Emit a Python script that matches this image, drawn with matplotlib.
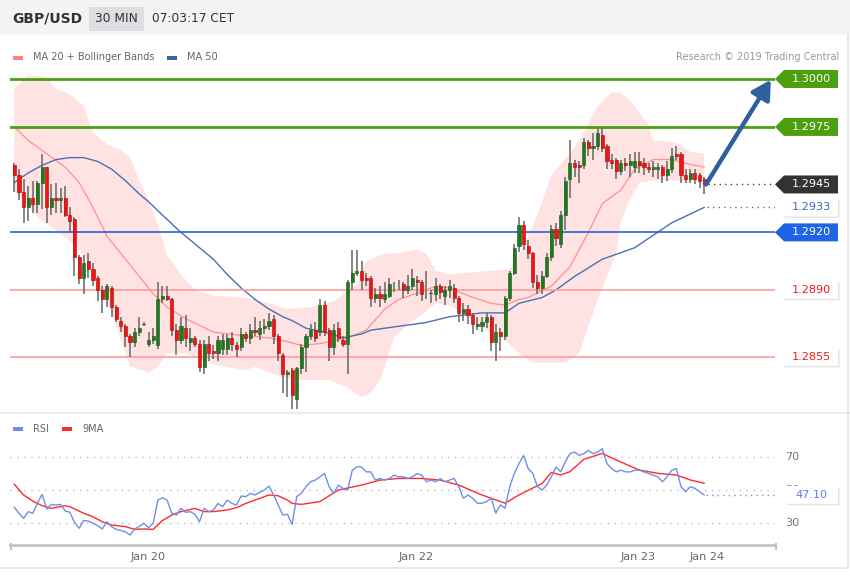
import numpy as np
import matplotlib.pyplot as plt
from matplotlib.patches import Polygon, Rectangle

plt.rcParams['font.family'] = ['DejaVu Sans', 'Noto Sans']

# ---------------- data (30 min candles, GBP/USD) ----------------
opens = [
    1.2955, 1.2950, 1.2941, 1.2933, 1.2938, 1.2935, 1.2946, 1.2954, 1.2933, 1.2938,
    1.2937, 1.2938, 1.2929, 1.2927, 1.2907, 1.2896, 1.2905, 1.2901, 1.2896, 1.2890,
    1.2885, 1.2891, 1.2881, 1.2874, 1.2871, 1.2866, 1.2863, 1.2868, 1.2872, 1.2862,
    1.2864, 1.2861, 1.2885, 1.2887, 1.2885, 1.2869, 1.2864, 1.2870, 1.2863, 1.2865,
    1.2862, 1.2850, 1.2862, 1.2858, 1.2857, 1.2859, 1.2859, 1.2865, 1.2861, 1.2860,
    1.2867, 1.2865, 1.2869, 1.2867, 1.2870, 1.2871, 1.2875, 1.2866, 1.2856, 1.2846,
    1.2848, 1.2833, 1.2849, 1.2860, 1.2866, 1.2869, 1.2868, 1.2882, 1.2869, 1.2860,
    1.2870, 1.2864, 1.2862, 1.2894, 1.2899, 1.2900, 1.2896, 1.2896, 1.2886, 1.2888,
    1.2885, 1.2887, 1.2892, 1.2892, 1.2893, 1.2890, 1.2892, 1.2895, 1.2894, 1.2890,
    1.2888, 1.2888, 1.2892, 1.2887, 1.2890, 1.2891, 1.2886, 1.2878, 1.2880, 1.2877,
    1.2871, 1.2871, 1.2873, 1.2876, 1.2863, 1.2868, 1.2866, 1.2886, 1.2899, 1.2913,
    1.2924, 1.2913, 1.2909, 1.2894, 1.2891, 1.2897, 1.2907, 1.2922, 1.2914, 1.2929,
    1.2948, 1.2956, 1.2955, 1.2955, 1.2967, 1.2964, 1.2965, 1.2971, 1.2965, 1.2958,
    1.2958, 1.2952, 1.2956, 1.2955, 1.2954, 1.2957, 1.2956, 1.2954, 1.2953, 1.2953,
    1.2954, 1.2950, 1.2953, 1.2961, 1.2961, 1.2950, 1.2948, 1.2951, 1.2950, 1.2948]
highs = [
    1.2956, 1.2953, 1.2948, 1.2944, 1.2947, 1.2947, 1.2961, 1.2954, 1.2945, 1.2946,
    1.2943, 1.2944, 1.2933, 1.2928, 1.2908, 1.2908, 1.2909, 1.2904, 1.2897, 1.2892,
    1.2893, 1.2892, 1.2882, 1.2876, 1.2872, 1.2867, 1.2870, 1.2876, 1.2873, 1.2868,
    1.2870, 1.2894, 1.2892, 1.2892, 1.2886, 1.2872, 1.2876, 1.2877, 1.2870, 1.2866,
    1.2864, 1.2864, 1.2866, 1.2861, 1.2866, 1.2867, 1.2867, 1.2868, 1.2863, 1.2870,
    1.2868, 1.2872, 1.2876, 1.2874, 1.2875, 1.2878, 1.2877, 1.2867, 1.2857, 1.2848,
    1.2849, 1.2850, 1.2862, 1.2867, 1.2872, 1.2873, 1.2885, 1.2884, 1.2870, 1.2872,
    1.2873, 1.2866, 1.2895, 1.2911, 1.2911, 1.2905, 1.2899, 1.2897, 1.2891, 1.2892,
    1.2894, 1.2896, 1.2894, 1.2895, 1.2894, 1.2898, 1.2901, 1.2897, 1.2895, 1.2900,
    1.2890, 1.2896, 1.2893, 1.2892, 1.2895, 1.2893, 1.2887, 1.2883, 1.2882, 1.2878,
    1.2876, 1.2876, 1.2878, 1.2877, 1.2872, 1.2870, 1.2887, 1.2900, 1.2914, 1.2928,
    1.2926, 1.2916, 1.2910, 1.2898, 1.2900, 1.2909, 1.2924, 1.2925, 1.2931, 1.2949,
    1.2968, 1.2958, 1.2957, 1.2969, 1.2968, 1.2972, 1.2974, 1.2975, 1.2966, 1.2961,
    1.2959, 1.2958, 1.2959, 1.2961, 1.2962, 1.2962, 1.2959, 1.2956, 1.2957, 1.2956,
    1.2955, 1.2957, 1.2964, 1.2965, 1.2962, 1.2953, 1.2953, 1.2953, 1.2951, 1.2949]
lows = [
    1.2941, 1.2937, 1.2925, 1.2926, 1.2930, 1.2930, 1.2932, 1.2925, 1.2929, 1.2930,
    1.2930, 1.2928, 1.2920, 1.2897, 1.2893, 1.2888, 1.2896, 1.2892, 1.2884, 1.2878,
    1.2881, 1.2876, 1.2873, 1.2868, 1.2860, 1.2855, 1.2860, 1.2866, 1.2871, 1.2860,
    1.2862, 1.2859, 1.2883, 1.2884, 1.2866, 1.2856, 1.2862, 1.2860, 1.2858, 1.2860,
    1.2847, 1.2846, 1.2853, 1.2854, 1.2853, 1.2856, 1.2856, 1.2858, 1.2855, 1.2858,
    1.2863, 1.2862, 1.2866, 1.2864, 1.2867, 1.2869, 1.2862, 1.2853, 1.2836, 1.2834,
    1.2828, 1.2828, 1.2846, 1.2847, 1.2864, 1.2863, 1.2866, 1.2866, 1.2853, 1.2856,
    1.2863, 1.2860, 1.2846, 1.2890, 1.2897, 1.2890, 1.2892, 1.2881, 1.2883, 1.2881,
    1.2883, 1.2886, 1.2889, 1.2890, 1.2886, 1.2888, 1.2890, 1.2887, 1.2884, 1.2885,
    1.2883, 1.2884, 1.2885, 1.2882, 1.2886, 1.2883, 1.2873, 1.2874, 1.2872, 1.2867,
    1.2869, 1.2868, 1.2870, 1.2858, 1.2853, 1.2858, 1.2864, 1.2884, 1.2898, 1.2910,
    1.2911, 1.2906, 1.2891, 1.2888, 1.2888, 1.2896, 1.2905, 1.2913, 1.2912, 1.2921,
    1.2938, 1.2949, 1.2946, 1.2953, 1.2960, 1.2958, 1.2963, 1.2962, 1.2953, 1.2953,
    1.2948, 1.2950, 1.2952, 1.2949, 1.2951, 1.2951, 1.2950, 1.2951, 1.2949, 1.2948,
    1.2946, 1.2947, 1.2951, 1.2958, 1.2946, 1.2946, 1.2946, 1.2945, 1.2943, 1.2940]
closes = [
    1.2950, 1.2941, 1.2933, 1.2938, 1.2935, 1.2946, 1.2954, 1.2933, 1.2938, 1.2937,
    1.2938, 1.2929, 1.2926, 1.2907, 1.2896, 1.2904, 1.2901, 1.2895, 1.2890, 1.2885,
    1.2892, 1.2881, 1.2875, 1.2871, 1.2866, 1.2863, 1.2868, 1.2870, 1.2872, 1.2864,
    1.2866, 1.2885, 1.2887, 1.2885, 1.2869, 1.2864, 1.2871, 1.2865, 1.2865, 1.2862,
    1.2850, 1.2862, 1.2857, 1.2857, 1.2864, 1.2864, 1.2865, 1.2862, 1.2859, 1.2867,
    1.2865, 1.2869, 1.2868, 1.2870, 1.2871, 1.2874, 1.2866, 1.2857, 1.2846, 1.2847,
    1.2835, 1.2849, 1.2860, 1.2866, 1.2869, 1.2865, 1.2882, 1.2868, 1.2860, 1.2869,
    1.2865, 1.2862, 1.2894, 1.2899, 1.2900, 1.2895, 1.2895, 1.2886, 1.2888, 1.2886,
    1.2888, 1.2893, 1.2892, 1.2892, 1.2890, 1.2892, 1.2896, 1.2894, 1.2888, 1.2890,
    1.2888, 1.2892, 1.2889, 1.2890, 1.2892, 1.2886, 1.2878, 1.2880, 1.2877, 1.2872,
    1.2872, 1.2873, 1.2876, 1.2863, 1.2868, 1.2866, 1.2886, 1.2899, 1.2912, 1.2924,
    1.2914, 1.2909, 1.2894, 1.2891, 1.2897, 1.2907, 1.2922, 1.2917, 1.2929, 1.2947,
    1.2956, 1.2954, 1.2954, 1.2967, 1.2964, 1.2965, 1.2972, 1.2964, 1.2957, 1.2956,
    1.2952, 1.2956, 1.2955, 1.2957, 1.2957, 1.2955, 1.2954, 1.2953, 1.2954, 1.2954,
    1.2950, 1.2953, 1.2960, 1.2960, 1.2950, 1.2948, 1.2951, 1.2948, 1.2947, 1.2945]

# moving averages / bands (candle index, price)
ma50_idx = [0, 3, 6, 9, 12, 15, 18, 21, 24, 27, 29, 32, 36, 40, 43, 46, 49, 52, 55, 58,
            60, 63, 67, 71, 75, 77, 83, 89, 94, 101, 106, 109, 114, 117, 121, 127, 134,
            142, 149]
ma50 = [1.2946, 1.2951, 1.2955, 1.2958, 1.2959, 1.2959, 1.2957, 1.2953, 1.2947, 1.2940,
        1.2936, 1.2929, 1.2920, 1.2912, 1.2906, 1.2898, 1.2891, 1.2885, 1.2880, 1.2876,
        1.2874, 1.2870, 1.2868, 1.2865, 1.2867, 1.2869, 1.2871, 1.2873, 1.2876, 1.2878,
        1.2878, 1.2883, 1.2886, 1.2890, 1.2897, 1.2906, 1.2912, 1.2925, 1.2933]
ma20_idx = [0, 3, 11, 14, 17, 20, 24, 27, 30, 33, 37, 43, 50, 55, 59, 62, 66, 72, 76,
            80, 83, 88, 91, 94, 98, 103, 106, 109, 111, 116, 120, 124, 127, 131, 134,
            138, 142, 145, 149]
ma20 = [1.2975, 1.2968, 1.2954, 1.2946, 1.2933, 1.2918, 1.2906, 1.2897, 1.2888, 1.2881,
        1.2875, 1.2868, 1.2866, 1.2865, 1.2863, 1.2861, 1.2862, 1.2865, 1.2869, 1.2880,
        1.2885, 1.2889, 1.2892, 1.2891, 1.2887, 1.2883, 1.2882, 1.2885, 1.2886, 1.2892,
        1.2902, 1.2920, 1.2935, 1.2942, 1.2953, 1.2958, 1.2958, 1.2956, 1.2954]
bb_up_idx = [0, 3, 7, 9, 12, 15, 17, 20, 23, 25, 27, 29, 31, 33, 36, 39, 43, 50, 55, 59,
             64, 69, 74, 76, 80, 83, 87, 89, 91, 94, 98, 103, 107, 109, 113, 116, 120,
             123, 126, 129, 131, 134, 137, 138, 143, 146, 149]
bb_up = [1.2995, 1.3002, 1.3001, 1.2995, 1.2992, 1.2986, 1.2972, 1.2966, 1.2963, 1.2959,
         1.2947, 1.2937, 1.2924, 1.2908, 1.2898, 1.2890, 1.2887, 1.2886, 1.2883, 1.2880,
         1.2881, 1.2884, 1.2893, 1.2905, 1.2909, 1.2909, 1.2911, 1.2909, 1.2900, 1.2898,
         1.2899, 1.2900, 1.2901, 1.2908, 1.2929, 1.2950, 1.2961, 1.2972, 1.2986, 1.2993,
         1.2993, 1.2986, 1.2976, 1.2968, 1.2967, 1.2962, 1.2961]
bb_lo_idx = [0, 5, 12, 16, 20, 23, 25, 29, 31, 33, 37, 43, 50, 52, 57, 61, 68, 72, 75,
             77, 79, 82, 85, 88, 91, 94, 98, 103, 106, 109, 112, 119, 122, 124, 126,
             128, 130, 131, 133, 135, 138, 149]
bb_lo = [1.2942, 1.2928, 1.2916, 1.2905, 1.2885, 1.2864, 1.2850, 1.2847, 1.2850, 1.2857,
         1.2857, 1.2851, 1.2848, 1.2850, 1.2845, 1.2843, 1.2843, 1.2839, 1.2834, 1.2836,
         1.2843, 1.2865, 1.2872, 1.2877, 1.2883, 1.2882, 1.2876, 1.2867, 1.2864, 1.2857,
         1.2852, 1.2852, 1.2857, 1.2871, 1.2885, 1.2897, 1.2909, 1.2926, 1.2937, 1.2946,
         1.2947, 1.2947]

rsi = [
    39.5, 36.0, 32.8, 36.9, 35.9, 42.0, 47.4, 38.5, 41.3, 40.9,
    41.3, 37.3, 36.5, 30.4, 26.8, 31.6, 31.2, 29.8, 28.4, 26.4,
    30.8, 27.8, 26.2, 25.5, 24.7, 22.7, 26.4, 28.0, 29.8, 27.2,
    29.8, 43.9, 45.3, 43.9, 35.9, 34.8, 38.9, 36.5, 36.9, 35.3,
    30.8, 38.9, 36.9, 37.9, 41.9, 39.9, 43.9, 41.9, 40.9, 46.4,
    46.0, 48.0, 47.0, 48.6, 50.0, 52.4, 47.0, 40.9, 34.8, 35.3,
    29.2, 46.0, 48.0, 52.0, 55.0, 56.0, 58.0, 60.0, 52.0, 48.0,
    53.0, 51.0, 50.0, 62.0, 64.0, 64.0, 61.0, 61.0, 56.0, 57.0,
    56.0, 57.0, 59.0, 58.0, 58.0, 57.0, 58.0, 60.0, 59.0, 55.0,
    56.0, 55.0, 57.0, 55.0, 56.0, 57.0, 52.0, 45.0, 47.0, 45.0,
    42.0, 42.0, 43.0, 45.0, 36.0, 41.0, 39.0, 52.0, 60.0, 66.0,
    71.0, 63.0, 60.0, 52.0, 50.0, 53.0, 58.0, 64.0, 61.0, 67.0,
    72.0, 73.0, 71.0, 72.0, 74.0, 72.0, 73.0, 75.0, 66.0, 63.0,
    61.0, 62.0, 61.0, 61.0, 62.0, 62.0, 61.0, 60.0, 59.0, 58.0,
    55.0, 58.0, 62.0, 63.0, 52.0, 49.0, 52.0, 51.0, 49.0, 47.1]
ma9_idx = [0, 2, 4, 6, 8, 11, 12, 15, 17, 19, 21, 24, 26, 28, 30, 32, 34, 36, 39, 41,
           43, 46, 48, 50, 52, 55, 57, 59, 60, 62, 66, 70, 75, 79, 83, 88, 92, 96, 101,
           104, 106, 109, 114, 116, 118, 120, 123, 127, 130, 135, 139, 143, 146, 149]
ma9 = [53.5, 47.0, 43.3, 40.5, 38.9, 40.5, 39.9, 35.9, 33.8, 30.8, 28.8, 27.8, 26.2, 26.4,
       26.2, 31.5, 34.8, 36.9, 38.9, 36.9, 36.9, 37.9, 39.3, 41.9, 43.9, 47.0, 46.5, 43.9,
       41.9, 41.3, 43.0, 50.0, 53.0, 56.0, 57.0, 57.0, 56.0, 53.0, 47.0, 44.0, 42.0, 47.0,
       54.0, 60.7, 59.1, 61.1, 68.6, 72.2, 68.2, 62.1, 60.1, 59.1, 56.1, 54.1]

levels = [1.3000, 1.2975, 1.2920, 1.2890, 1.2855]
last_price = 1.2945
last_ma50 = 1.2933
target = 1.3000
last_rsi = 47.10
rsi_levels = [70, 50, 30]
tick_pos = [28.9, 86.8, 134.7, 149.6]
tick_labels = ['Jan 20', 'Jan 22', 'Jan 23', 'Jan 24']

# ---------------- layout ----------------
W, H = 850, 576
fig = plt.figure(figsize=(W / 100, H / 100), dpi=100)
fig.patch.set_facecolor('white')


def box(x0, y0, x1, y1):
    return [x0 / W, 1 - y1 / H, (x1 - x0) / W, (y1 - y0) / H]


XL, XR = -0.93, 164.3
ax = fig.add_axes(box(10, 70, 775, 412))
rx = fig.add_axes(box(10, 440, 775, 545))
cv = fig.add_axes([0, 0, 1, 1], zorder=5)
cv.set_xlim(0, W)
cv.set_ylim(H, 0)
cv.axis('off')

for a in (ax, rx):
    a.set_xlim(XL, XR)
    a.set_facecolor('none')
    for s in a.spines.values():
        s.set_visible(False)
    a.set_yticks([])
ax.set_xticks([])
ax.set_ylim(1.28263, 1.30047)

GREEN_LVL = '#4ca00e'
BLUE_LVL = '#2563d8'
RED_LVL = '#ff9c9c'
lvl_colors = [GREEN_LVL, GREEN_LVL, BLUE_LVL, RED_LVL, RED_LVL]
lvl_widths = [2.0, 2.0, 1.2, 1.2, 1.2]

# bollinger band + MAs
band_x = np.r_[bb_up_idx, bb_lo_idx[::-1]]
band_y = np.r_[bb_up, bb_lo[::-1]]
ax.fill(band_x, band_y, color='#ffe2e2', lw=0, zorder=1)
ax.plot(ma20_idx, ma20, color='#ff9090', lw=0.9, zorder=2)
ax.plot(ma50_idx, ma50, color='#4a70b5', lw=1.0, zorder=2)

for v, col, lw in zip(levels, lvl_colors, lvl_widths):
    ax.axhline(v, color=col, lw=lw, zorder=3)

# candles
idx = np.arange(len(closes))
o = np.array(opens)
c = np.array(closes)
hi = np.array(highs)
lo = np.array(lows)
ax.vlines(idx, lo, hi, color='#666666', lw=1.1, zorder=4)
up = c > o
dn = c < o
eq = c == o
body_lo = np.minimum(o, c)
body_h = np.maximum(np.abs(c - o), 0.00004)
ax.bar(idx[up], body_h[up], bottom=body_lo[up], width=0.68, color='#1f7a1f',
       edgecolor='#155815', lw=0.4, zorder=5)
ax.bar(idx[dn], body_h[dn], bottom=body_lo[dn], width=0.68, color='#f01414',
       edgecolor='#b00000', lw=0.4, zorder=5)
ax.bar(idx[eq], body_h[eq], bottom=body_lo[eq] - 0.00002, width=0.68, color='#555555',
       lw=0, zorder=5)

# dotted leaders to the right tags
ax.plot([idx[-1] + 0.9, XR], [last_price] * 2, color='#444444', lw=1.0,
        ls=(0, (1, 3)), zorder=3)
ax.plot([idx[-1] + 0.6, XR], [last_ma50] * 2, color='#4a70b5', lw=1.0,
        ls=(0, (1, 3)), zorder=3)

# target arrow
ax.annotate('', xy=(163.4, target - 0.00004), xytext=(idx[-1] + 0.4, last_price),
            arrowprops=dict(arrowstyle='-|>,head_length=0.8,head_width=0.45',
                            lw=3.2, color='#2f5f9e', mutation_scale=14,
                            shrinkA=0, shrinkB=0), zorder=6)


def ypx(a, v):
    return H - a.transData.transform((0, v))[1]


def tag(y, text, face, tcol, shadow=False, x0=775, x1=838, hh=9):
    pts = [(x0, y), (x0 + 9, y - hh), (x1, y - hh), (x1, y + hh), (x0 + 9, y + hh)]
    if shadow:
        sh = [(px + 1.5, py + 1.5) for px, py in pts]
        cv.add_patch(Polygon(sh, closed=True, color='#e4e4e4', lw=0, zorder=2))
    cv.add_patch(Polygon(pts, closed=True, color=face, lw=0, zorder=2))
    cv.text((x0 + 9 + x1) / 2, y, text, color=tcol, fontsize=8.1,
            ha='center', va='center', zorder=3)


tag(ypx(ax, 1.3000), '1.3000', GREEN_LVL, 'white')
tag(ypx(ax, 1.2975), '1.2975', GREEN_LVL, 'white')
tag(ypx(ax, last_price), '1.2945', '#333333', 'white')
tag(ypx(ax, last_ma50), '1.2933', 'white', '#3b66b0', shadow=True)
tag(ypx(ax, 1.2920), '1.2920', '#1f63e6', 'white')
tag(ypx(ax, 1.2890), '1.2890', 'white', '#f01a1a', shadow=True)
tag(ypx(ax, 1.2855), '1.2855', 'white', '#f01a1a', shadow=True)

# ---------------- RSI panel ----------------
rx.set_ylim(16.7, 80.3)
for v in rsi_levels:
    rx.axhline(v, color='#bdbdbd', lw=1.0, ls=(0, (1, 4)), zorder=1)
rx.plot(idx, rsi, color='#6f8fe8', lw=1.0, zorder=3)
rx.plot(ma9_idx, ma9, color='#ff2b2b', lw=1.0, zorder=2)
rx.plot([idx[-1] + 0.5, XR], [last_rsi] * 2, color='#6f8fe8', lw=1.0,
        ls=(0, (1, 3)), zorder=2)
rx.spines['bottom'].set_visible(True)
rx.spines['bottom'].set_color('#c4c4c4')
rx.spines['bottom'].set_linewidth(2.0)
rx.set_xticks(tick_pos)
rx.set_xticklabels(tick_labels)
rx.tick_params(axis='x', length=0, pad=5, labelsize=8.1, labelcolor='#666666')

for v in rsi_levels:
    cv.text(785, ypx(rx, v), str(v), fontsize=8.1, color='#777777', va='center',
            zorder=1)
tag(ypx(rx, last_rsi), '47.10', 'white', '#5b7fe0', shadow=True, x0=777, x1=838)

# axis end ticks
cv.plot([11, 11], [544, 549], color='#c4c4c4', lw=1.5)
cv.plot([776, 776], [544, 549], color='#c4c4c4', lw=1.5)

# ---------------- header / legends ----------------
cv.add_patch(Rectangle((0, 0), W, 35, color='#f4f4f4', lw=0))
cv.text(12, 19, 'GBP/USD', fontsize=10, fontweight='bold', color='#333333', va='center')
cv.add_patch(Rectangle((89, 7), 55, 24, color='#dcdee2', lw=0))
cv.text(116.5, 19, '30 MIN', fontsize=8.8, color='#333333', ha='center', va='center')
cv.text(152, 19, '07:03:17 CET', fontsize=8.8, color='#333333', va='center')

cv.add_patch(Rectangle((13, 55.5), 10, 4, color='#ff8080', lw=0))
cv.text(33, 57.5, 'MA 20 + Bollinger Bands', fontsize=7.0, color='#666666', va='center')
cv.add_patch(Rectangle((167, 55.5), 10, 4, color='#3a62a8', lw=0))
cv.text(187, 57.5, 'MA 50', fontsize=7.0, color='#666666', va='center')
cv.text(839, 57.5, 'Research \u00a9 2019 Trading Central', fontsize=7.0,
        color='#9a9a9a', ha='right', va='center')

cv.add_patch(Rectangle((13, 427), 10, 4, color='#6f8fe8', lw=0))
cv.text(33, 429, 'RSI', fontsize=7.0, color='#666666', va='center')
cv.add_patch(Rectangle((62, 427), 10, 4, color='#ff2b2b', lw=0))
cv.text(82, 429, '9MA', fontsize=7.0, color='#666666', va='center')

# frame lines
cv.plot([0, W], [413, 413], color='#ececec', lw=1.5)
cv.plot([848, 848], [35, 568], color='#e8e8e8', lw=1.5)
cv.plot([0, 848], [568, 568], color='#e8e8e8', lw=1.5)

fig.savefig('out.png', dpi=100, facecolor='white')
